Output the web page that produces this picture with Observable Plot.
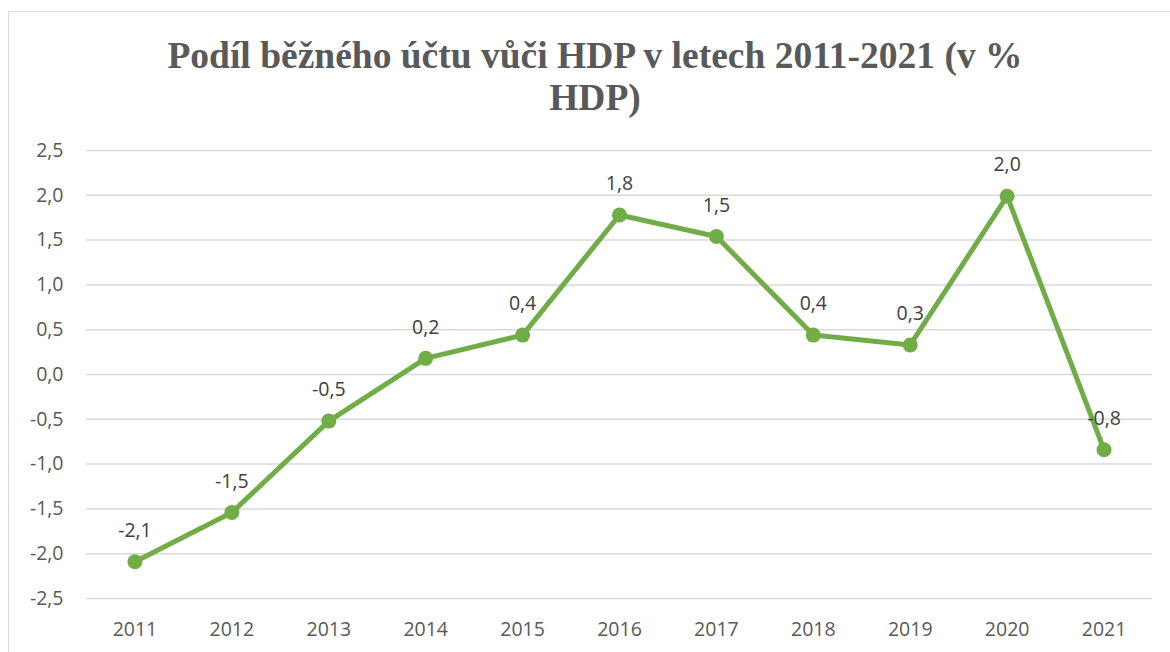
<!DOCTYPE html>
<html>
<head>
<meta charset="utf-8">
<script src="https://cdn.jsdelivr.net/npm/d3@7"></script>
<script src="https://cdn.jsdelivr.net/npm/@observablehq/plot@0.6"></script>
<style>
  html, body { margin: 0; padding: 0; background: #fff; }
  #wrap { position: relative; width: 1170px; height: 652px; overflow: hidden; }
  #frame { position: absolute; left: 8px; top: 11px; width: 1200px; height: 700px; border: 1.5px solid #d9d9d9; box-sizing: border-box; }
  #title { position: absolute; left: 145px; width: 900px; top: 35px; text-align: center;
    font-family: "Liberation Serif", "Times New Roman", serif; font-weight: bold; font-size: 37.5px;
    line-height: 42px; color: #595959; }
  #chart { position: absolute; left: 0; top: 130px; }
</style>
</head>
<body>
<div id="wrap">
  <div id="frame"></div>
  <div id="title">Podíl běžného účtu vůči HDP v letech 2011-2021 (v %<br>HDP)</div>
  <div id="chart"></div>
</div>
<script>
const years = ["2011","2012","2013","2014","2015","2016","2017","2018","2019","2020","2021"];
const values = [-2.09, -1.54, -0.52, 0.18, 0.44, 1.78, 1.54, 0.44, 0.33, 1.99, -0.84];
const yTicks = [-2.5, -2.0, -1.5, -1.0, -0.5, 0.0, 0.5, 1.0, 1.5, 2.0, 2.5];

const fmt = v => (Math.abs(v) < 1e-9 ? 0 : v).toFixed(1).replace(".", ",");
const data = years.map((y, i) => ({year: y, value: values[i]}));

const green = "#70AD47";
const font = "'Open Sans', 'Liberation Sans', sans-serif";

const chart = Plot.plot({
  width: 1170,
  height: 522,
  marginTop: 20,
  marginBottom: 54,
  marginLeft: 86,
  marginRight: 18,
  style: {fontFamily: font, fontSize: "19.5px", color: "#595959", background: "transparent"},
  x: {type: "point", domain: years, padding: 0.5, round: false, label: null},
  y: {domain: [-2.5, 2.5], ticks: yTicks, label: null, tickFormat: fmt},
  marks: [
    Plot.ruleY(yTicks, {stroke: "#d9d9d9", strokeWidth: 1.5}),
    Plot.axisY({ticks: yTicks, tickSize: 0, tickPadding: 23, tickFormat: fmt, label: null, fill: "#595959"}),
    Plot.axisX({tickSize: 0, tickPadding: 24, label: null, fill: "#595959"}),
    Plot.line(data, {x: "year", y: "value", stroke: green, strokeWidth: 5, strokeLinejoin: "round"}),
    Plot.dot(data, {x: "year", y: "value", r: 7.5, fill: green, stroke: "none"}),
    Plot.text(data, {x: "year", y: "value", text: d => fmt(d.value), dy: -31, fill: "#404040", fontSize: 19.5})
  ]
});
document.getElementById("chart").appendChild(chart);
</script>
</body>
</html>
